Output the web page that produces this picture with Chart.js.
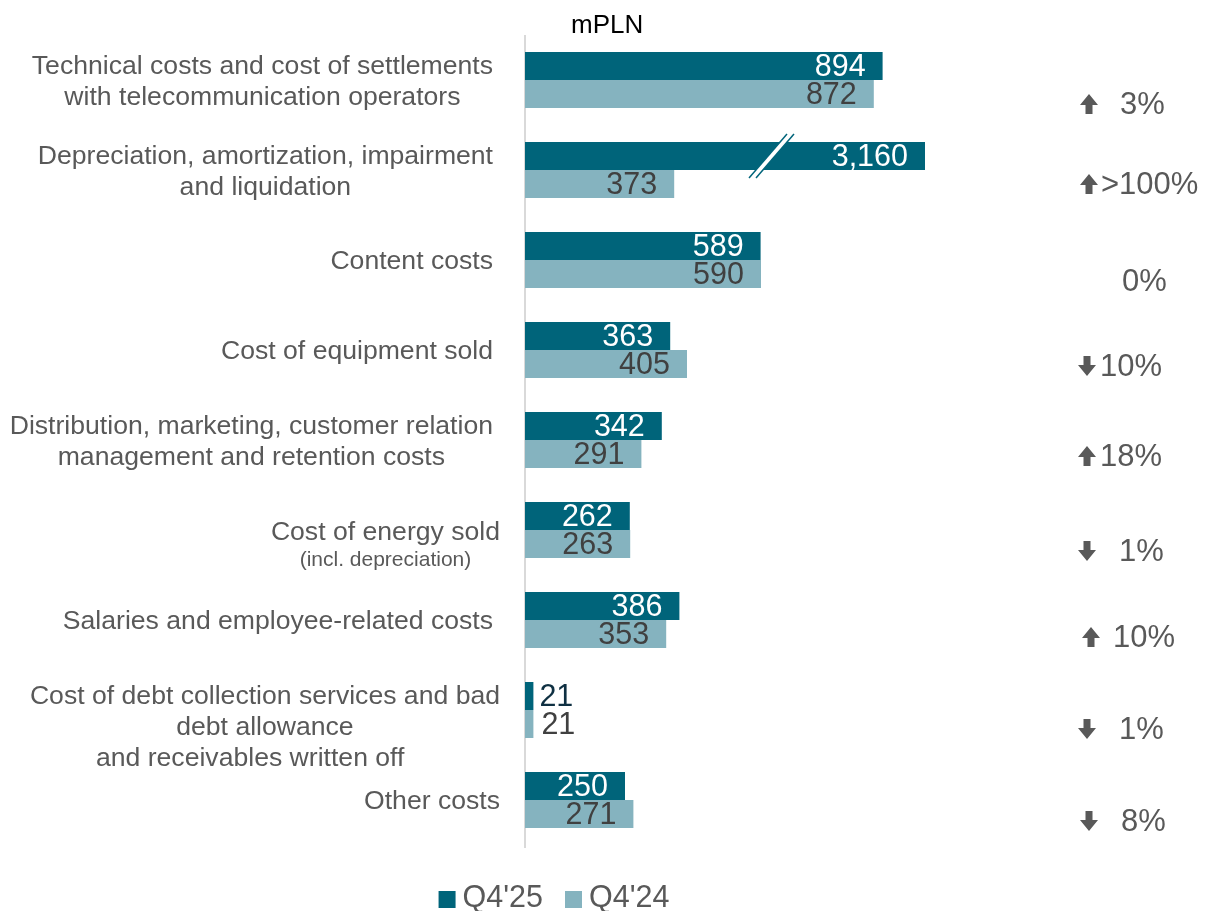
<!DOCTYPE html>
<html>
<head>
<meta charset="utf-8">
<script src="https://cdn.jsdelivr.net/npm/chart.js@4/dist/chart.umd.min.js"></script>
<style>
  html, body { margin: 0; padding: 0; background: #ffffff; }
  #wrap { width: 1206px; height: 911px; position: relative; }
</style>
</head>
<body>
<div id="wrap"><canvas id="c" width="1206" height="911"></canvas></div>
<script>
// ---- data ----
const categories = [
  ['Technical costs and cost of settlements', 'with telecommunication operators'],
  ['Depreciation, amortization, impairment', 'and liquidation'],
  ['Content costs'],
  ['Cost of equipment sold'],
  ['Distribution, marketing, customer relation', 'management and retention costs'],
  ['Cost of energy sold', '(incl. depreciation)'],
  ['Salaries and employee-related costs'],
  ['Cost of debt collection services and bad', 'debt allowance', 'and receivables written off    '],
  ['Other costs']
];
const seriesNames = ["Q4'25", "Q4'24"];
const q425 = [894, 3160, 589, 363, 342, 262, 386, 21, 250];
const q424 = [872, 373, 590, 405, 291, 263, 353, 21, 271];
const changeDir = ['up', 'up', 'flat', 'down', 'up', 'down', 'up', 'down', 'down'];
const changeText = ['3%', '>100%', '0%', '10%', '18%', '1%', '10%', '1%', '8%'];
const unitLabel = 'mPLN';

// ---- styling / layout ----
const FONT = '"Liberation Sans", Arial, Helvetica, sans-serif';
const DARK = '#00647A';
const LIGHT = '#85B3BF';
const GREY_TEXT = '#595959';
const AXIS_MAX = 1000;            // longer bars are cut with a break mark
const TEXT_NUDGE = 2;             // optical centring of 'middle' baseline

const labelRight = [493, 493, 493, 493, 493, 500, 493, 500, 500];
const labelDy = [0, 0, 0, 0, 0, 12.5, 0, 16, 0];
const labelSizes = [[26.6, 26.6], [26.6, 26.6], [26.6], [26.6], [26.6, 26.6], [26.6, 21], [26.6], [26.6, 26.6, 26.6], [26.6]];
const changeDy = [23, 13, 20, 15, 15, 20, 16, 18, 20];
const changeTextX = [1120, 1101, 1122, 1100, 1100, 1119, 1113, 1119, 1121];
const changeArrowX = [1089, 1089, 0, 1087, 1087, 1087, 1091, 1087, 1089];

// category labels on the left, each block centred line by line
const categoryLabels = {
  id: 'categoryLabels',
  afterDraw(chart) {
    const ctx = chart.ctx;
    const y = chart.scales.y;
    ctx.save();
    ctx.fillStyle = GREY_TEXT;
    ctx.textAlign = 'center';
    ctx.textBaseline = 'middle';
    categories.forEach((lines, i) => {
      const sizes = labelSizes[i];
      let maxW = 0;
      const heights = lines.map((t, k) => {
        ctx.font = sizes[k] + 'px ' + FONT;
        maxW = Math.max(maxW, ctx.measureText(t).width);
        return sizes[k] * 1.16;
      });
      const total = heights.reduce((a, b) => a + b, 0);
      const cx = labelRight[i] - maxW / 2;
      let top = y.getPixelForValue(i) + labelDy[i] - total / 2;
      lines.forEach((t, k) => {
        ctx.font = sizes[k] + 'px ' + FONT;
        ctx.fillText(t, cx, top + heights[k] / 2 + TEXT_NUDGE);
        top += heights[k];
      });
    });
    ctx.restore();
  }
};

// vertical base line at zero
const baseLine = {
  id: 'baseLine',
  beforeDatasetsDraw(chart) {
    const ctx = chart.ctx;
    const a = chart.chartArea;
    ctx.save();
    ctx.strokeStyle = '#d9d9d9';
    ctx.lineWidth = 2;
    ctx.beginPath();
    ctx.moveTo(a.left, a.top);
    ctx.lineTo(a.left, a.bottom + 3);
    ctx.stroke();
    ctx.restore();
  }
};

// break mark on bars that exceed the axis, then value labels
const barLabels = {
  id: 'barLabels',
  afterDatasetsDraw(chart) {
    const ctx = chart.ctx;
    const a = chart.chartArea;
    ctx.save();
    chart.data.datasets.forEach((ds, di) => {
      const meta = chart.getDatasetMeta(di);
      meta.data.forEach((el, i) => {
        const v = ds.data[i];
        const top = el.y - el.height / 2;
        const bot = el.y + el.height / 2;
        if (v > AXIS_MAX) {
          const k = 0.864;                 // horizontal shift per px of height
          const cx = a.right - 157;        // centre of first slash at bar middle
          const gap = 7;
          const ext = 8;
          const xAt = (x0, yy) => x0 - (yy - el.y) * k;
          ctx.fillStyle = '#ffffff';
          ctx.beginPath();
          ctx.moveTo(xAt(cx, top), top);
          ctx.lineTo(xAt(cx + gap, top), top);
          ctx.lineTo(xAt(cx + gap, bot), bot);
          ctx.lineTo(xAt(cx, bot), bot);
          ctx.closePath();
          ctx.fill();
          ctx.strokeStyle = ds.backgroundColor;
          ctx.lineWidth = 1.5;
          [cx, cx + gap].forEach(x0 => {
            ctx.beginPath();
            ctx.moveTo(xAt(x0, top - ext), top - ext);
            ctx.lineTo(xAt(x0, bot + ext), bot + ext);
            ctx.stroke();
          });
        }
        const end = Math.min(el.x, a.right);
        const txt = v.toLocaleString('en-US');
        ctx.font = '30.5px ' + FONT;
        ctx.textBaseline = 'middle';
        const w = ctx.measureText(txt).width;
        if (end - a.left > w + 20) {
          ctx.textAlign = 'right';
          ctx.fillStyle = di === 0 ? '#ffffff' : '#404040';
          ctx.fillText(txt, end - 17, el.y + TEXT_NUDGE);
        } else {
          ctx.textAlign = 'left';
          ctx.fillStyle = di === 0 ? '#0f3042' : '#404040';
          ctx.fillText(txt, end + 6 + di * 2, el.y + TEXT_NUDGE);
        }
      });
    });
    ctx.restore();
  }
};

function drawArrow(ctx, cx, cy, dir) {
  const hw = 9, hh = 11, sw = 3.5, sh = 9;
  const s = dir === 'up' ? 1 : -1;
  const tip = cy - s * 10;
  const base = tip + s * hh;
  ctx.beginPath();
  ctx.moveTo(cx, tip);
  ctx.lineTo(cx + hw, base);
  ctx.lineTo(cx + sw, base);
  ctx.lineTo(cx + sw, base + s * sh);
  ctx.lineTo(cx - sw, base + s * sh);
  ctx.lineTo(cx - sw, base);
  ctx.lineTo(cx - hw, base);
  ctx.closePath();
  ctx.fill();
}

// change column, unit label and legend
const extras = {
  id: 'extras',
  afterDraw(chart) {
    const ctx = chart.ctx;
    const y = chart.scales.y;
    ctx.save();
    ctx.fillStyle = GREY_TEXT;
    ctx.textBaseline = 'middle';
    ctx.textAlign = 'left';
    ctx.font = '31px ' + FONT;
    changeText.forEach((t, i) => {
      const cy = y.getPixelForValue(i) + changeDy[i];
      ctx.fillText(t, changeTextX[i], cy + TEXT_NUDGE);
      if (changeDir[i] !== 'flat') drawArrow(ctx, changeArrowX[i], cy + 1, changeDir[i]);
    });

    // unit
    ctx.fillStyle = '#000000';
    ctx.font = '26px ' + FONT;
    ctx.fillText(unitLabel, 571, 24 + TEXT_NUDGE);

    // legend
    ctx.font = '30.5px ' + FONT;
    const colors = [DARK, LIGHT];
    const box = 17, gapIn = 7, gapOut = 22;
    const widths = seriesNames.map(n => ctx.measureText(n).width);
    const total = widths.reduce((s, w) => s + w + box + gapIn, 0) + gapOut;
    let x = 554 - total / 2;
    const ly = 899.5;
    seriesNames.forEach((n, i) => {
      ctx.fillStyle = colors[i];
      ctx.fillRect(x, ly - box / 2, box, box);
      x += box + gapIn;
      ctx.fillStyle = GREY_TEXT;
      ctx.fillText(n, x, ly - 3 + TEXT_NUDGE);
      x += widths[i] + gapOut;
    });
    ctx.restore();
  }
};

new Chart(document.getElementById('c'), {
  type: 'bar',
  data: {
    labels: categories,
    datasets: [
      { label: seriesNames[0], data: q425, backgroundColor: DARK },
      { label: seriesNames[1], data: q424, backgroundColor: LIGHT }
    ]
  },
  options: {
    indexAxis: 'y',
    responsive: false,
    animation: false,
    events: [],
    datasets: { bar: { barPercentage: 1, categoryPercentage: 56 / 90, borderWidth: 0 } },
    layout: { padding: { left: 525, right: 281, top: 35, bottom: 66 } },
    scales: {
      x: { display: false, min: 0, max: AXIS_MAX },
      y: { display: false }
    },
    plugins: {
      legend: { display: false },
      tooltip: { enabled: false }
    }
  },
  plugins: [baseLine, barLabels, categoryLabels, extras]
});
</script>
</body>
</html>
